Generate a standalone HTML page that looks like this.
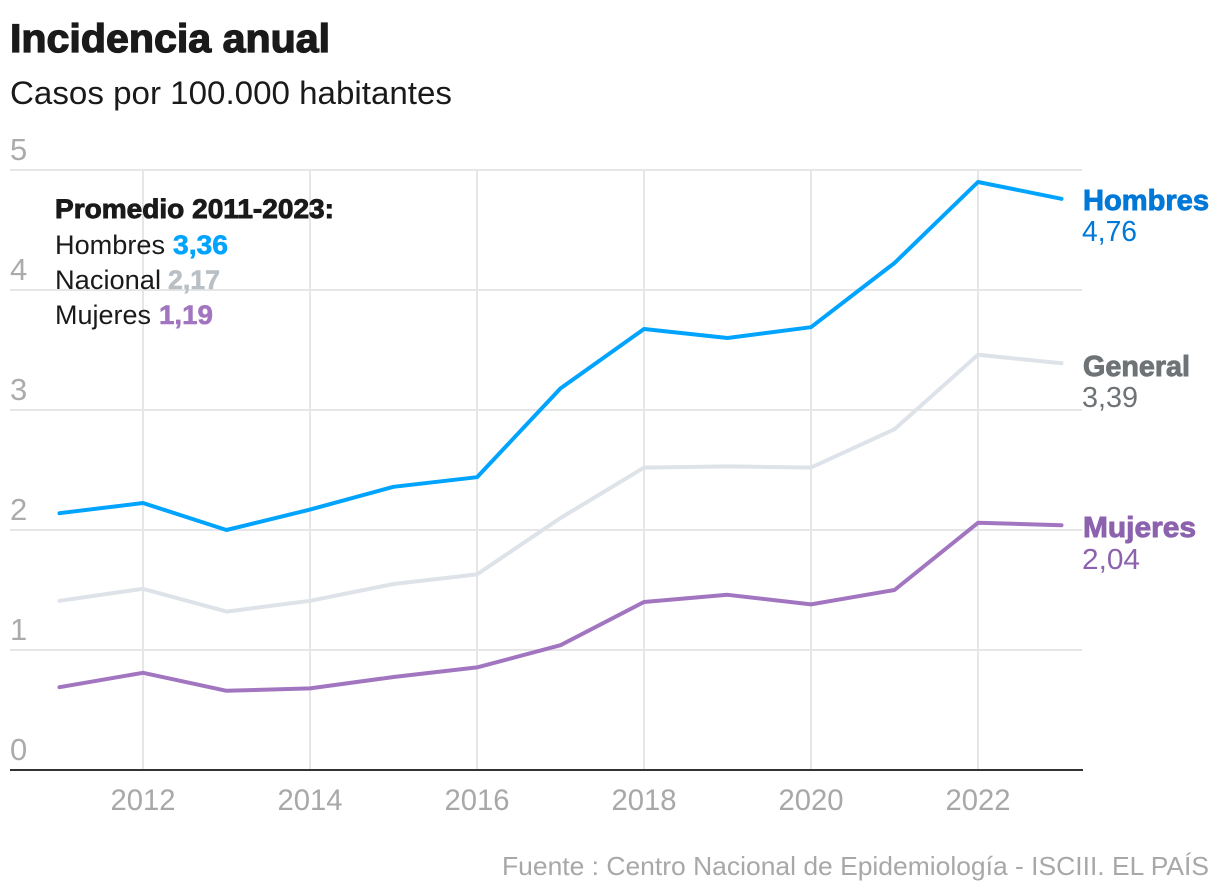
<!DOCTYPE html>
<html lang="es">
<head>
<meta charset="utf-8">
<title>Incidencia anual</title>
<style>
html,body{margin:0;padding:0;background:#fff;}
svg{display:block;font-family:"Liberation Sans",sans-serif;}
</style>
</head>
<body>
<svg id="chart" width="1220" height="896" viewBox="0 0 1220 896" xmlns="http://www.w3.org/2000/svg">
  <rect x="0" y="0" width="1220" height="896" fill="#ffffff"/>
  <text x="10" y="52" font-size="40" font-weight="700" fill="#1a1a1a" stroke="#1a1a1a" stroke-width="1.3" textLength="320" lengthAdjust="spacingAndGlyphs">Incidencia anual</text>
  <text x="10" y="104" font-size="32" fill="#1a1a1a" textLength="442" lengthAdjust="spacingAndGlyphs">Casos por 100.000 habitantes</text>
  <g id="grid"></g>
  <g id="yaxis"></g>
  <g id="xaxis"></g>
  <g id="series"></g>

  <g font-size="27" fill="#1a1a1a">
    <text x="55" y="218" font-weight="700" stroke="#1a1a1a" stroke-width="0.9" textLength="279" lengthAdjust="spacingAndGlyphs">Promedio 2011-2023:</text>
    <text x="55" y="254" textLength="110" lengthAdjust="spacingAndGlyphs">Hombres</text>
    <text x="173" y="254" font-weight="700" fill="#00a4ff" stroke="#00a4ff" stroke-width="0.6" textLength="55" lengthAdjust="spacingAndGlyphs">3,36</text>
    <text x="55" y="289" textLength="106" lengthAdjust="spacingAndGlyphs">Nacional</text>
    <text x="168" y="289" font-weight="700" fill="#b9c0c5" stroke="#b9c0c5" stroke-width="0.6" textLength="52" lengthAdjust="spacingAndGlyphs">2,17</text>
    <text x="55" y="324" textLength="96" lengthAdjust="spacingAndGlyphs">Mujeres</text>
    <text x="159" y="324" font-weight="700" fill="#a275c0" stroke="#a275c0" stroke-width="0.6" textLength="54" lengthAdjust="spacingAndGlyphs">1,19</text>
  </g>

  <g font-size="29">
    <text x="1083" y="210" font-weight="700" fill="#0078d7" stroke="#0078d7" stroke-width="0.9" textLength="126" lengthAdjust="spacingAndGlyphs">Hombres</text>
    <text x="1082" y="241" fill="#0078d7" textLength="55" lengthAdjust="spacingAndGlyphs">4,76</text>
    <text x="1083" y="376" font-weight="700" fill="#6e7376" stroke="#6e7376" stroke-width="0.9" textLength="107" lengthAdjust="spacingAndGlyphs">General</text>
    <text x="1082" y="407" fill="#6e7376" textLength="56" lengthAdjust="spacingAndGlyphs">3,39</text>
    <text x="1083" y="537" font-weight="700" fill="#8c62ae" stroke="#8c62ae" stroke-width="0.9" textLength="113" lengthAdjust="spacingAndGlyphs">Mujeres</text>
    <text x="1082" y="569" fill="#8c62ae" textLength="58" lengthAdjust="spacingAndGlyphs">2,04</text>
  </g>

  <text x="502" y="875" font-size="26" fill="#a8a8a8" textLength="707" lengthAdjust="spacingAndGlyphs">Fuente : Centro Nacional de Epidemiología - ISCIII. EL PAÍS</text>
</svg>
<script>
const years = [2011,2012,2013,2014,2015,2016,2017,2018,2019,2020,2021,2022,2023];
const hombres = [2.14,2.225,2.0,2.17,2.36,2.44,3.18,3.675,3.6,3.69,4.225,4.9,4.76];
const general = [1.41,1.51,1.32,1.41,1.55,1.63,2.1,2.52,2.53,2.52,2.84,3.46,3.39];
const mujeres = [0.69,0.81,0.66,0.68,0.775,0.855,1.04,1.4,1.46,1.38,1.5,2.06,2.04];
const yTicks = [0,1,2,3,4,5];
const xTicks = [2012,2014,2016,2018,2020,2022];

const NS = 'http://www.w3.org/2000/svg';
function xScale(year) { return 143 + (year - 2012) * 83.5; }
function yScale(value) { return 770 - value * 120; }
function make(parent, tag, attrs) {
  const el = document.createElementNS(NS, tag);
  for (const k in attrs) el.setAttribute(k, attrs[k]);
  parent.appendChild(el);
  return el;
}
const grid = document.getElementById('grid');
const yaxis = document.getElementById('yaxis');
const xaxis = document.getElementById('xaxis');
const seriesGroup = document.getElementById('series');

yTicks.forEach(function (t) {
  if (t > 0) {
    const line = make(grid, 'line', {x1: 10, x2: 1082, y1: yScale(t), y2: yScale(t), stroke: '#e6e6e6', 'stroke-width': 2});
    
    
  }
  const label = make(yaxis, 'text', {x: 10, y: yScale(t) - 10, 'font-size': 31, fill: '#ababab'});
  
  
  label.textContent = String(t);
});

xTicks.forEach(function (t) {
  const line = make(grid, 'line', {x1: xScale(t), x2: xScale(t), y1: yScale(5), y2: yScale(0), stroke: '#e6e6e6', 'stroke-width': 2});
  
  
  const label = make(xaxis, 'text', {x: xScale(t), y: 810, 'font-size': 30, fill: '#a8a8a8', 'text-anchor': 'middle', textLength: 65, lengthAdjust: 'spacingAndGlyphs'});
  
  
  label.textContent = String(t);
});

const axisLine = make(xaxis, 'line', {x1: 10, x2: 1083, y1: yScale(0), y2: yScale(0), stroke: '#333333', 'stroke-width': 2});



function drawSeries(values, color, name) {
  const pts = values.map(function (v, i) { return xScale(years[i]) + ',' + yScale(v); }).join(' ');
  const line = make(seriesGroup, 'polyline', {points: pts, fill: 'none', stroke: color, 'stroke-width': 4, 'stroke-linejoin': 'round', 'stroke-linecap': 'round'});
  
  
}
drawSeries(general, '#dde3e8', 'line-general');
drawSeries(hombres, '#00a4ff', 'line-hombres');
drawSeries(mujeres, '#a275c0', 'line-mujeres');
</script>
</body>
</html>
